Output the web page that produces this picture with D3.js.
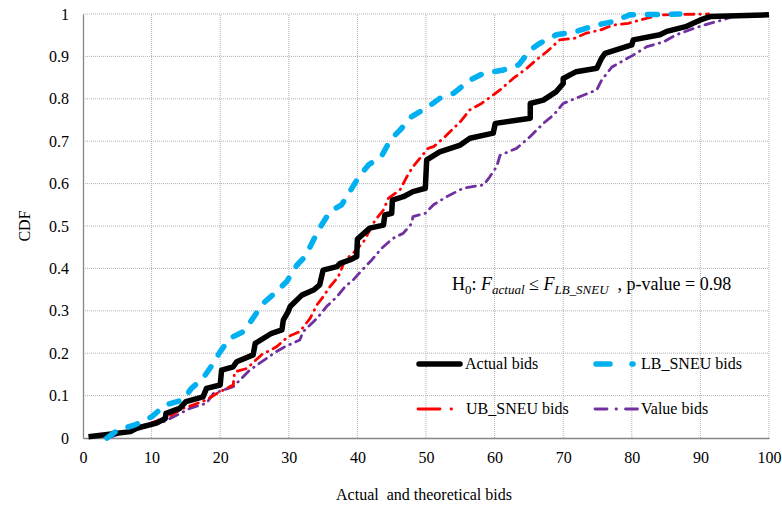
<!DOCTYPE html>
<html><head><meta charset="utf-8">
<script src="https://cdn.jsdelivr.net/npm/d3@7"></script>
</head><body style="margin:0;background:#fff"><svg id="c" width="782" height="510" style="display:block"></svg>
<script>
const xTicks = [0,10,20,30,40,50,60,70,80,90,100];
const yTicks = [0,0.1,0.2,0.3,0.4,0.5,0.6,0.7,0.8,0.9,1];
const yTickLabels = ["0","0.1","0.2","0.3","0.4","0.5","0.6","0.7","0.8","0.9","1"];

const actualX = [0.8,6.9,7.8,10.7,12,12.1,14.1,15,17.5,18,20,20.2,21.9,22.4,24.8,25.1,27.5,29,29.2,29.9,30.2,31.9,33.6,34.5,35,37,37.5,38.9,39.9,40,41.8,43.8,44,45,45.1,46.7,48.1,49.9,50.1,52,55,56.4,59.8,60.1,65.2,65.2,67.1,69,70,70,71.9,74.9,75.6,76.1,80,80.2,84.1,85.1,88,90,91.4,100];
const actualY = [0.003,0.015,0.023,0.035,0.046,0.058,0.07,0.086,0.097,0.117,0.125,0.16,0.168,0.18,0.196,0.223,0.247,0.255,0.278,0.298,0.31,0.337,0.349,0.361,0.396,0.404,0.412,0.42,0.428,0.469,0.495,0.502,0.526,0.53,0.561,0.569,0.581,0.589,0.656,0.675,0.691,0.707,0.719,0.742,0.754,0.789,0.797,0.817,0.836,0.848,0.864,0.872,0.896,0.907,0.927,0.939,0.951,0.959,0.971,0.986,0.994,0.998];

const lbX = [3.5,5.1,7.6,10,12,14.6,15.8,17.5,19,20,21.4,23.4,25.1,26,28.2,29.7,31.2,32.4,33.6,34.5,36,37.7,38.9,40.1,41.6,43.5,44.8,46.2,47.9,50.3,52,54,56.4,58.4,61.3,63.5,65.2,66.6,69,71.9,74.9,77.3,79.7,87];
const lbY = [0,0.019,0.031,0.05,0.078,0.09,0.117,0.141,0.176,0.204,0.235,0.251,0.29,0.314,0.345,0.369,0.408,0.428,0.467,0.495,0.534,0.55,0.581,0.613,0.644,0.664,0.703,0.726,0.758,0.781,0.801,0.813,0.844,0.86,0.868,0.88,0.915,0.931,0.951,0.959,0.974,0.982,0.998,1];

const ubX = [3.9,4.9,6.85,9.3,11,12.9,14.6,16.1,18,19.5,21.9,22.1,23.9,26,28.2,29.9,31.6,33.1,34.1,35,36,37.2,38.2,39.4,40.9,42.6,43.8,44.5,46.2,47.2,48.1,50.3,51.1,52.8,55,56.4,58.1,60.8,62.7,64.7,66.1,67.6,69.5,71.7,73.4,75.4,77.3,79.5,82.2,84.1,91.2];
const ubY = [0.003,0.011,0.019,0.031,0.042,0.054,0.07,0.078,0.09,0.105,0.125,0.156,0.164,0.196,0.215,0.239,0.251,0.282,0.314,0.333,0.357,0.38,0.42,0.436,0.463,0.514,0.538,0.565,0.585,0.616,0.64,0.683,0.687,0.711,0.746,0.774,0.789,0.821,0.848,0.872,0.892,0.911,0.939,0.943,0.955,0.962,0.974,0.978,0.99,0.998,1];

const valX = [3.7,4.9,6.85,9.3,11.7,13.7,15.6,18,19,21.9,24.3,28.2,29.4,31.6,32.1,34.1,35.5,37,38.2,39.4,40.9,42.1,43.5,45.2,46.7,47.9,48.1,49.9,51.1,53,55.4,58.4,59.3,60.3,60.8,63.2,65.2,67.1,68.6,70,72.4,74.9,75.6,77.1,80.2,82.2,84.6,86.5,89,91.4,93.3,95.3];
const valY = [0,0.007,0.015,0.027,0.038,0.054,0.07,0.082,0.105,0.121,0.16,0.204,0.215,0.231,0.251,0.282,0.31,0.333,0.357,0.373,0.4,0.42,0.447,0.471,0.483,0.506,0.522,0.53,0.55,0.569,0.589,0.597,0.616,0.64,0.667,0.683,0.711,0.742,0.762,0.789,0.805,0.821,0.844,0.875,0.903,0.923,0.934,0.951,0.966,0.978,0.986,0.998];

const series = [
  {name:"Value bids", xs:valX, ys:valY, color:"#7030A0", w:2.8, dash:"9,6,0.5,6", cap:"round", legDash:"12,9,0.5,9,12,40"},
  {name:"UB_SNEU bids", xs:ubX, ys:ubY, color:"#FF0000", w:2.8, dash:"9,6,0.5,6", cap:"round", legDash:"22,11,0.5,40"},
  {name:"Actual bids", xs:actualX, ys:actualY, color:"#000000", w:5.5, dash:null, cap:"butt", legDash:null},
  {name:"LB_SNEU bids", xs:lbX, ys:lbY, color:"#00B0F0", w:5.5, dash:"10,14", cap:"round", legDash:"14,22,1,40"}
];

const FONT = "Liberation Serif";
const svg = d3.select("#c").attr("font-family",FONT);
const m = {l:83, r:769, t:14, b:438};
const x = d3.scaleLinear().domain([0,100]).range([m.l,m.r]);
const y = d3.scaleLinear().domain([0,1]).range([m.b,m.t]);

// grid
const g = svg.append("g");
g.selectAll(".gx").data(xTicks.slice(1)).enter().append("line")
  .attr("x1",d=>x(d)).attr("x2",d=>x(d)).attr("y1",y(0)).attr("y2",y(1))
  .attr("stroke","#b0b0b0").attr("stroke-width",1).attr("stroke-dasharray","1,1");
g.selectAll(".gy").data(yTicks.slice(1)).enter().append("line")
  .attr("x1",x(0)).attr("x2",x(100)).attr("y1",d=>y(d)).attr("y2",d=>y(d))
  .attr("stroke","#b0b0b0").attr("stroke-width",1).attr("stroke-dasharray","1,1");

// axes
const xAxis = d3.axisBottom(x).tickValues(xTicks).tickSize(0).tickPadding(14);
const yAxis = d3.axisLeft(y).tickValues(yTicks).tickSize(0).tickPadding(14).tickFormat((d,i)=>yTickLabels[i]);
const ax = svg.append("g").attr("transform",`translate(0,${m.b})`).call(xAxis);
const ay = svg.append("g").attr("transform",`translate(${m.l},0)`).call(yAxis);
[ax,ay].forEach(a=>{
  a.attr("font-family",FONT).attr("font-size",16);
  a.select(".domain").attr("stroke","#868686").attr("stroke-width",1.3);
  a.selectAll("text").attr("font-family",FONT).attr("font-size",16).attr("fill","#000");
});

// lines
const line = d3.line().x(d=>x(d[0])).y(d=>y(d[1]));
series.forEach(s=>{
  const pts = s.xs.map((v,i)=>[v,s.ys[i]]);
  const p = svg.append("path").datum(pts).attr("d",line)
    .attr("fill","none").attr("stroke",s.color).attr("stroke-width",s.w)
    .attr("stroke-linejoin","round").attr("stroke-linecap",s.cap);
  if(s.dash) p.attr("stroke-dasharray",s.dash);
});

// axis titles
svg.append("text").attr("transform","translate(30,226) rotate(-90)").attr("text-anchor","middle")
  .attr("font-family",FONT).attr("font-size",16).text("CDF");
svg.append("text").attr("x",424).attr("y",500).attr("text-anchor","middle")
  .attr("font-family",FONT).attr("font-size",16).attr("xml:space","preserve").text("Actual  and theoretical bids");

// annotation
const ann = svg.append("text").attr("x",452).attr("y",290).attr("font-family",FONT).attr("font-size",18);
ann.append("tspan").text("H");
ann.append("tspan").attr("font-size",13).attr("dy",4).text("0");
ann.append("tspan").attr("dy",-4).text(": ");
ann.append("tspan").attr("font-style","italic").text("F");
ann.append("tspan").attr("font-style","italic").attr("font-size",13).attr("dy",4).text("actual");
ann.append("tspan").attr("dy",-4).text(" ≤ ");
ann.append("tspan").attr("font-style","italic").text("F");
ann.append("tspan").attr("font-style","italic").attr("font-size",13).attr("dy",4).text("LB_SNEU");
ann.append("tspan").attr("dy",-4).attr("xml:space","preserve").text("  , p-value = 0.98");

// legend
const leg = [
  {s:series[2], x1:419, x2:460, tx:465, y:364},
  {s:series[3], x1:596, x2:640, tx:641, y:364},
  {s:series[1], x1:418, x2:455, tx:466, y:409},
  {s:series[0], x1:595, x2:638, tx:641, y:409}
];
leg.forEach(l=>{
  const ln = svg.append("line").attr("x1",l.x1).attr("x2",l.x2).attr("y1",l.y).attr("y2",l.y)
    .attr("stroke",l.s.color).attr("stroke-width",l.s.w).attr("stroke-linecap","round");
  if(l.s.legDash) ln.attr("stroke-dasharray",l.s.legDash);
  svg.append("text").attr("x",l.tx).attr("y",l.y+5).attr("font-family",FONT).attr("font-size",16).text(l.s.name);
});
</script></body></html>
